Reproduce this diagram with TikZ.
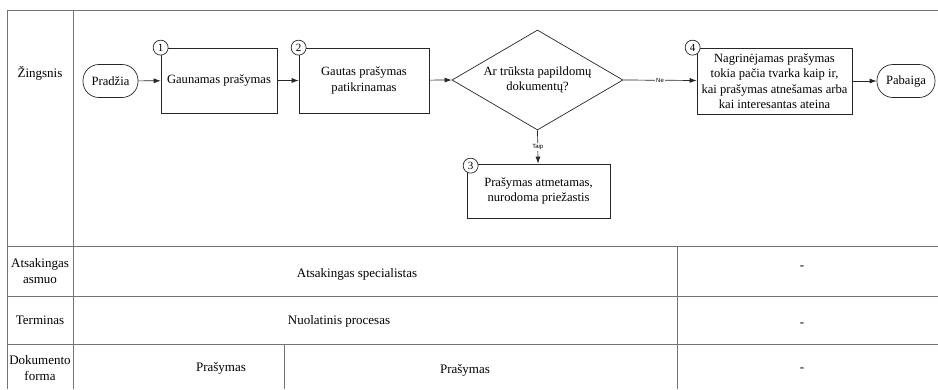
\documentclass[tikz,border=0pt]{standalone}
\usepackage{fontspec}
\setmainfont{Liberation Serif}
\newfontfamily\smallsans{Liberation Sans}
\usetikzlibrary{shapes.geometric,arrows.meta}

\begin{document}
\begin{tikzpicture}[x=1pt,y=-1pt,
  gridline/.style={draw=black!55, line width=0.9pt},
  celltext/.style={font=\fontsize{13}{16}\selectfont, align=center, inner sep=0pt},
  flow/.style={draw=black!85, line width=0.7pt},
  stepbox/.style={flow, rectangle, align=center, inner sep=0pt,
    font=\fontsize{12.6}{15.5}\selectfont},
  term/.style={flow, rectangle, rounded corners=16pt, inner sep=0pt,
    minimum height=33pt, font=\fontsize{12.6}{15}\selectfont},
  decision/.style={flow, diamond, aspect=1.71, inner sep=0pt, align=center,
    minimum width=171pt, minimum height=100pt, font=\fontsize{12.6}{15.5}\selectfont},
  stepno/.style={flow, circle, fill=white, inner sep=0pt, minimum size=15pt,
    font=\fontsize{11}{11}\selectfont},
  conn/.style={flow, -{Latex[length=7pt,width=5pt]}},
  branch/.style={fill=white, inner sep=1pt, font=\smallsans\fontsize{6}{6}\selectfont}
]
\useasboundingbox (0,0) rectangle (938,389);

% table frame and rules
\draw[gridline] (938,10) -- (7,10) -- (7,389);
\draw[gridline] (73,10) -- (73,389);
\draw[gridline] (7,246) -- (938,246);
\draw[gridline] (7,296) -- (938,296);
\draw[gridline] (7,344) -- (938,344);
\draw[gridline] (677,246) -- (677,389);
\draw[gridline] (284,344) -- (284,389);

% row headings
\node[celltext] (hStep) at (40,73) {Žingsnis};
\node[celltext] (hResp) at (40,271) {Atsakingas\\asmuo};
\node[celltext] (hTerm) at (40,320) {Terminas};
\node[celltext] (hDoc)  at (40,368) {Dokumento\\forma};

% row contents
\node[celltext] (resp)  at (357,274) {Atsakingas specialistas};
\node[celltext] (term)  at (339,321) {Nuolatinis procesas};
\node[celltext] (docA)  at (221,368) {Prašymas};
\node[celltext] (docB)  at (465,370) {Prašymas};
\node[celltext] (respX) at (802,268) {-};
\node[celltext] (termX) at (802,325) {-};
\node[celltext] (docX)  at (802,370) {-};

% flow
\node[term, minimum width=55pt] (start) at (110.5,81) {Pradžia};
\node[stepbox, minimum width=116pt, minimum height=65pt] (s1) at (219,80.5) {Gaunamas prašymas};
\node[stepbox, minimum width=130pt, minimum height=65pt] (s2) at (364,80.5) {Gautas prašymas\\patikrinamas};
\node[decision] (q) at (537.5,80) {Ar trūksta papildomų\\dokumentų?};
\node[stepbox, minimum width=143pt, minimum height=54pt] (s3) at (538.5,191) {Prašymas atmetamas,\\nurodoma priežastis};
\node[stepbox, minimum width=155pt, minimum height=66pt] (s4) at (774.5,81) {Nagrinėjamas prašymas\\tokia pačia tvarka kaip ir,\\kai prašymas atnešamas arba\\kai interesantas ateina};
\node[term, minimum width=58pt] (stop) at (906,81) {Pabaiga};

\node[stepno] (n1) at (s1.north west) {1};
\node[stepno] (n2) at (s2.north west) {2};
\node[stepno] (n3) at ([shift={(4,2)}]s3.north west) {3};
\node[stepno] (n4) at ([shift={(-4,0)}]s4.north west) {4};

\draw[conn] (start) -- (s1);
\draw[conn] (s1) -- (s2);
\draw[conn] (s2) -- (q.west);
\draw[conn] (q.east) -- node[branch] {Ne} (s4);
\draw[conn] (q.south) -- node[branch] {Taip} (s3);
\draw[conn] (s4) -- (stop);
\end{tikzpicture}
\end{document}
